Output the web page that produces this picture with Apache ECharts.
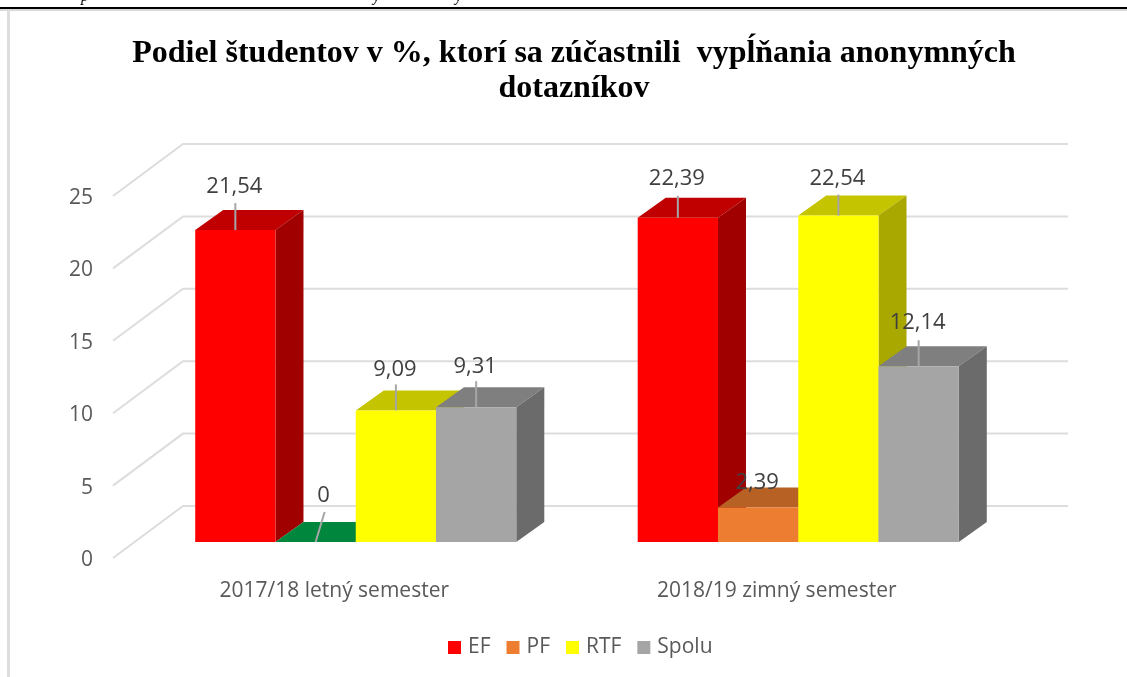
<!DOCTYPE html>
<html><head><meta charset="utf-8">
<style>html,body{margin:0;padding:0;background:#fff}#c{width:1127px;height:677px}</style>
<script src="https://cdn.jsdelivr.net/npm/echarts@6/dist/echarts.min.js"></script>
</head><body><div id="c"></div>
<script>
const categories = ['2017/18 letný semester', '2018/19 zimný semester'];
const EF = [21.54, 22.39];
const PF = [0, 2.39];
const RTF = [9.09, 22.54];
const Spolu = [9.31, 12.14];
const valueTicks = [0, 5, 10, 15, 20, 25];

const FONT = '"Open Sans"';
const TEXT = '#595959';
const WALL = [70, -54];      // wall depth in pixels
const WALL_DIAG_DROP = 2;    // diagonal starts slightly above the tick label centre
const FRONT = [21.5, -18];   // bar front plane relative to the axis plane
const DEPTH = [28, -20];     // bar depth
const BAR_SHARE = 0.1814;    // bar width as a share of a category band

const palettes = {
  EF: {front: '#FF0000', top: '#C00000', side: '#A00000'},
  PF: {front: '#ED7D31', top: '#B86125', side: '#A85620'},
  RTF: {front: '#FFFF00', top: '#C4C400', side: '#A8A800'},
  Spolu: {front: '#A5A5A5', top: '#7F7F7F', side: '#6B6B6B'}
};
const zeroBarTop = '#00873D';
// label placement: lift above the bar's front top, leader gap, sideways lean
const labelStyle = {
  'EF0': {lift: 43, gap: 16}, 'EF1': {lift: 39, gap: 17},
  'PF0': {lift: 46, gap: 16, lean: 9}, 'PF1': {lift: 25, gap: 0},
  'RTF0': {lift: 41, gap: 15}, 'RTF1': {lift: 37, gap: 16},
  'Spolu0': {lift: 40, gap: 14}, 'Spolu1': {lift: 43, gap: 17}
};

function barSeries(name, values, slot) {
  const pal = palettes[name];
  return {
    name, type: 'custom', coordinateSystem: 'cartesian2d',
    itemStyle: {color: pal.front}, encode: {x: 0, y: 1},
    data: values.map((v, i) => [i, v]),
    clip: false,
    renderItem(params, api) {
      const i = api.value(0), v = api.value(1);
      const pt = api.coord([i, v]), base = api.coord([i, 0]);
      const w = api.size([1, 0])[0] * BAR_SHARE;
      const x0 = pt[0] + FRONT[0] + (slot - 2) * w, x1 = x0 + w;
      const yT = pt[1] + FRONT[1], yB = base[1] + FRONT[1];
      const dx = DEPTH[0], dy = DEPTH[1];
      const poly = (points, fill) => ({type: 'polygon', shape: {points}, style: {fill}, silent: true});
      const kids = [];
      const topFill = (v === 0) ? zeroBarTop : pal.top;
      kids.push(poly([[x0, yT], [x1, yT], [x1 + dx, yT + dy], [x0 + dx, yT + dy]], topFill));
      if (v > 0) {
        kids.push(poly([[x1, yT], [x1 + dx, yT + dy], [x1 + dx, yB + dy], [x1, yB]], pal.side));
        kids.push(poly([[x0, yT], [x1, yT], [x1, yB], [x0, yB]], pal.front));
      }
      const ls = labelStyle[name + i];
      const cx = (x0 + x1) / 2, lean = ls.lean || 0;
      if (ls.gap) {
        kids.push({type: 'line', shape: {x1: cx, y1: yT, x2: cx + lean, y2: yT - ls.lift + ls.gap},
          style: {stroke: '#A6A6A6', lineWidth: 2}, silent: true});
      }
      kids.push({type: 'text', silent: true, style: {
        x: cx + lean - 1, y: yT - ls.lift, text: String(v).replace('.', ','),
        fill: '#404040', font: '22px ' + FONT, align: 'center', verticalAlign: 'middle'}});
      return {type: 'group', children: kids};
    }
  };
}

const wallSeries = {
  name: 'wall', type: 'custom', coordinateSystem: 'cartesian2d', silent: true, clip: false,
  encode: {y: 0}, data: valueTicks.map(t => [t]),
  renderItem(params, api) {
    const y = api.coord([0, api.value(0)])[1];
    const g = params.coordSys;
    return {type: 'polyline', silent: true,
      shape: {points: [[g.x, y - WALL_DIAG_DROP], [g.x + WALL[0], y + WALL[1]], [g.x + g.width + WALL[0], y + WALL[1]]]},
      style: {stroke: '#DDDDDD', lineWidth: 2, fill: null}};
  }
};

const chart = echarts.init(document.getElementById('c'), null, {renderer: 'canvas'});
chart.setOption({
  animation: false, backgroundColor: '#fff',
  title: {
    text: 'Podiel študentov v %, ktorí sa zúčastnili  vypĺňania anonymných\ndotazníkov',
    left: 569, top: 31, textAlign: 'center',
    textStyle: {fontFamily: '"Liberation Serif"', fontWeight: 'bold', fontSize: 32, lineHeight: 35, color: '#000'}
  },
  legend: {
    data: ['EF', 'PF', 'RTF', 'Spolu'], left: 443, top: 632, icon: 'rect',
    itemWidth: 13, itemHeight: 13, itemGap: 16,
    textStyle: {fontFamily: FONT, fontSize: 21, color: TEXT, padding: [0, 0, 0, 2]}
  },
  grid: {left: 113, top: 198, width: 885, height: 362, containLabel: false},
  xAxis: {type: 'category', data: categories,
    axisLine: {show: false}, axisTick: {show: false},
    axisLabel: {margin: 21, fontFamily: FONT, fontSize: 21, color: TEXT}},
  yAxis: {type: 'value', min: 0, max: 25, interval: 5,
    axisLine: {show: false}, axisTick: {show: false}, splitLine: {show: false},
    axisLabel: {margin: 20, fontFamily: FONT, fontSize: 21, color: TEXT}},
  graphic: [
    {type: 'rect', shape: {x: 0, y: 7, width: 1127, height: 2}, style: {fill: '#000'}, silent: true},
    {type: 'rect', shape: {x: 0, y: 9, width: 1127, height: 2}, style: {fill: '#D9D9D9'}, silent: true},
    {type: 'rect', shape: {x: 7, y: 9, width: 3, height: 668}, style: {fill: '#DDDDDD'}, silent: true},
    {type: 'text', x: 81, y: -11, style: {text: 'p', fill: '#000', font: 'italic 16px "Liberation Serif"'}, silent: true},
    {type: 'text', x: 373, y: -11, style: {text: 'y', fill: '#000', font: 'italic 16px "Liberation Serif"'}, silent: true},
    {type: 'text', x: 455, y: -11, style: {text: 'y', fill: '#000', font: 'italic 16px "Liberation Serif"'}, silent: true}
  ],
  series: [wallSeries, barSeries('EF', EF, 0), barSeries('PF', PF, 1), barSeries('RTF', RTF, 2), barSeries('Spolu', Spolu, 3)]
});
</script></body></html>
